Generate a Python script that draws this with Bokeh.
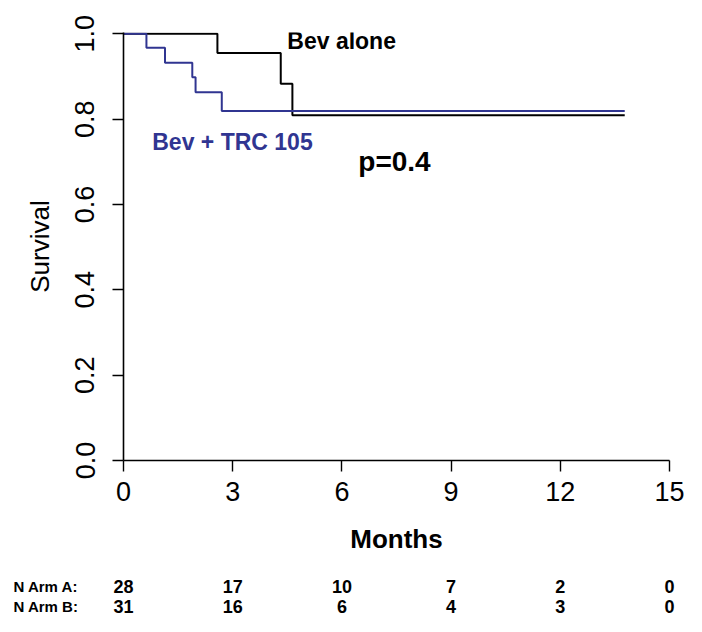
from bokeh.plotting import figure
from bokeh.layouts import column
from bokeh.models import Range1d, FixedTicker, PrintfTickFormatter, Label
from bokeh.core.properties import value
from bokeh.embed import file_html
from bokeh.resources import INLINE

# Kaplan-Meier steps (months, survival)
bev_months = [0, 2.58, 4.32, 4.64, 13.77]
bev_surv = [1.0, 0.955, 0.883, 0.809, 0.809]
trc_months = [0, 0.63, 1.14, 1.89, 1.98, 2.70, 13.77]
trc_surv = [1.0, 0.967, 0.932, 0.898, 0.863, 0.819, 0.819]

x_ticks = [0, 3, 6, 9, 12, 15]
y_ticks = [0.0, 0.2, 0.4, 0.6, 0.8, 1.0]
risk_months = [0, 3, 6, 9, 12, 15]
n_arm_a = [28, 17, 10, 7, 2, 0]
n_arm_b = [31, 16, 6, 4, 3, 0]
row_names = ["N Arm A:", "N Arm B:"]

FONT = "Liberation Sans"
BLUE = "#303591"

W = 686
LEFT, RIGHT, TOP = 123, 17, 32
TOP_H = 560
TABLE_H = 56
X0, X1 = 0, 15

p = figure(width=W, height=TOP_H, output_backend="svg", toolbar_location=None,
           x_range=Range1d(X0, X1), y_range=Range1d(0, 1.003),
           min_border_left=LEFT, min_border_right=RIGHT, min_border_top=TOP,
           min_border_bottom=TOP_H - 460)
p.frame_align = False
p.outline_line_color = None
p.grid.visible = False

p.step(bev_months, bev_surv, mode="after", line_color="black", line_width=2)
p.step(trc_months, trc_surv, mode="after", line_color=BLUE, line_width=2)

for ax in (p.xaxis[0], p.yaxis[0]):
    ax.axis_line_width = 1.6
    ax.major_tick_line_width = 1.4
    ax.major_tick_out = 11
    ax.major_tick_in = 0
    ax.minor_tick_line_color = None
    ax.major_label_text_font = FONT
    ax.major_label_text_font_size = "27px"
    ax.major_label_text_color = "black"
    ax.axis_label_text_font = FONT
    ax.axis_label_text_font_style = "normal"
    ax.axis_label_text_color = "black"

p.xaxis.ticker = FixedTicker(ticks=x_ticks)
p.yaxis.ticker = FixedTicker(ticks=y_ticks)
p.yaxis.formatter = PrintfTickFormatter(format="%.1f")
p.yaxis.major_label_orientation = "vertical"
p.xaxis.major_label_standoff = 10
p.yaxis.major_label_standoff = 18

p.xaxis.axis_label = "Months"
p.xaxis.axis_label_text_font_size = "26px"
p.xaxis.axis_label_text_font_style = "bold"
p.xaxis.axis_label_standoff = 20
p.yaxis.axis_label = "Survival"
p.yaxis.axis_label_text_font_size = "26px"
p.yaxis.axis_label_standoff = 18

p.add_layout(Label(x=4.5, y=0.982, text="Bev alone", text_font=FONT,
                   text_font_size="23px", text_font_style="bold",
                   text_color="black", text_baseline="alphabetic"))
p.add_layout(Label(x=0.79, y=0.747, text="Bev + TRC 105", text_font=FONT,
                   text_font_size="23px", text_font_style="bold",
                   text_color=BLUE, text_baseline="alphabetic"))
p.add_layout(Label(x=6.45, y=0.701, text="p=0.4", text_font=FONT,
                   text_font_size="28px", text_font_style="bold",
                   text_color="black", text_baseline="alphabetic"))

# at-risk table, same horizontal scale as the plot, frame spans full width
px_per_unit = (W - LEFT - RIGHT) / (X1 - X0)
t = figure(width=W, height=TABLE_H, output_backend="svg", toolbar_location=None,
           x_range=Range1d(X0 - LEFT / px_per_unit, X1 + RIGHT / px_per_unit),
           y_range=Range1d(TABLE_H, 0),
           min_border=0, min_border_left=0, min_border_right=0,
           min_border_top=0, min_border_bottom=0)
t.frame_align = False
t.axis.visible = False
t.grid.visible = False
t.outline_line_color = None

row_pos = [26, 46]
label_x = X0 - 110 / px_per_unit
for ry, name, counts in zip(row_pos, row_names, [n_arm_a, n_arm_b]):
    t.text(x=[label_x], y=[ry], text=[name], text_font=value(FONT),
           text_font_size="15px", text_font_style="bold", text_color="black",
           text_baseline="alphabetic", text_align="left")
    t.text(x=risk_months, y=[ry] * len(counts), text=[str(c) for c in counts],
           text_font=value(FONT), text_font_size="18px", text_font_style="bold",
           text_color="black", text_baseline="alphabetic", text_align="center")

layout = column(p, t, spacing=0)
open("out.html", "w").write(file_html(layout, INLINE))
